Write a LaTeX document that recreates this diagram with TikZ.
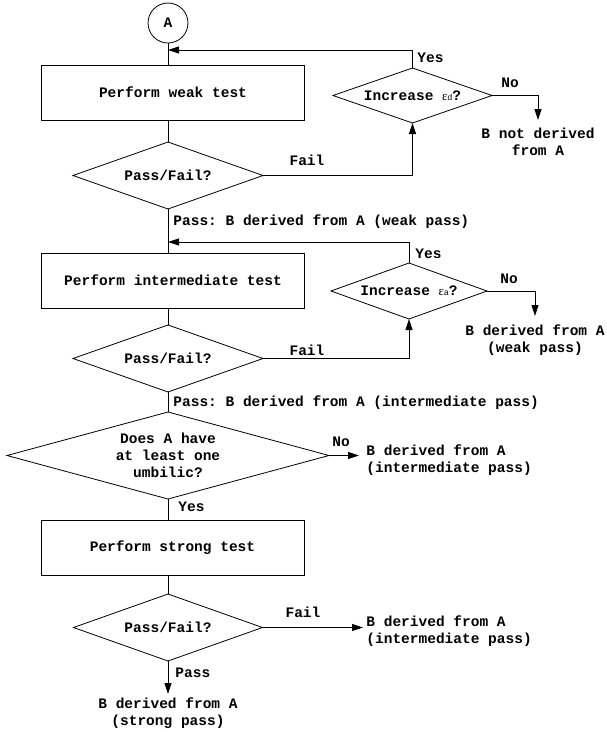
\documentclass[tikz,border=0pt]{standalone}
\usepackage{fontspec}
\setmonofont{Liberation Mono}
\newfontfamily\epsfont{Liberation Serif}
\usetikzlibrary{shapes.geometric,arrows.meta}
\newcommand\myeps[1]{{\epsfont\mdseries\fontsize{13}{13}\selectfont ε}\kern-0.3pt{\mdseries\fontsize{8.5}{8.5}\selectfont #1}}
\begin{document}
\begin{tikzpicture}[x=1pt,y=-1pt, line width=0.8pt,
  every node/.style={font={\ttfamily\bfseries\fontsize{14.5}{17}\selectfont}},
  box/.style={draw, rectangle, minimum width=263pt, minimum height=55pt, inner sep=0pt},
  dia/.style={draw, diamond, inner sep=0pt, outer sep=0pt},
  lbl/.style={inner sep=0pt},
  outtxt/.style={align=center, inner sep=0pt},
  arr/.style={-{Triangle[length=11pt,width=7pt]}}]
\useasboundingbox (0,0) rectangle (606,732);

% nodes
\node[circle, draw, minimum size=40pt, inner sep=0pt] (A) at (168,23) {A};
\coordinate (j1) at (168,50);
\node[box] (w1) at (173,92.5) {Perform weak test};
\node[dia, minimum width=190pt, minimum height=67pt, aspect=2.8] (d1) at (168,175.5) {Pass/Fail?};
\node[dia, minimum width=159pt, minimum height=55pt, aspect=2.9] (i1) at (412.5,95.5) {Increase \myeps{d}?};
\node[outtxt, anchor=north] (o1) at (538,128) {B not derived\\from A};

\coordinate (j2) at (168,242);
\node[box] (w2) at (173,280.5) {Perform intermediate test};
\node[dia, minimum width=156pt, minimum height=56pt, aspect=2.8] (i2) at (409,291) {Increase \myeps{a}?};
\node[outtxt, anchor=north] (o2) at (535,324) {B derived from A\\(weak pass)};
\node[dia, minimum width=190pt, minimum height=67pt, aspect=2.8] (d2) at (168,358.5) {Pass/Fail?};

\node[dia, minimum width=322pt, minimum height=87pt, aspect=3.7, align=center] (d3) at (168,455.5) {Does A have\\at least one\\umbilic?};
\node[outtxt, align=left, anchor=north west] (o3) at (366,444) {B derived from A\\(intermediate pass)};

\node[box] (w3) at (172.5,547.5) {Perform strong test};
\node[dia, minimum width=189pt, minimum height=67pt, aspect=2.8] (d4) at (168,627.5) {Pass/Fail?};
\node[outtxt, align=left, anchor=north west] (o4) at (366,615) {B derived from A\\(intermediate pass)};
\node[outtxt, anchor=north] (o5) at (168,697) {B derived from A\\(strong pass)};

% labels
\node[lbl, anchor=base west] (y1) at (417,62) {Yes};
\node[lbl, anchor=base] (n1) at (510,87) {No};
\node[lbl, anchor=base] (f1) at (307,165) {Fail};
\node[lbl, anchor=base west] (p1) at (173,225) {Pass: B derived from A (weak pass)};
\node[lbl, anchor=base west] (y2) at (415,258) {Yes};
\node[lbl, anchor=base] (n2) at (509,283) {No};
\node[lbl, anchor=base] (f2) at (307,355) {Fail};
\node[lbl, anchor=base west] (p2) at (173,406) {Pass: B derived from A (intermediate pass)};
\node[lbl, anchor=base] (n3) at (341,446) {No};
\node[lbl, anchor=base west] (y3) at (178,511) {Yes};
\node[lbl, anchor=base] (f4) at (303,617) {Fail};
\node[lbl, anchor=base west] (p4) at (175,677) {Pass};

% connectors
\draw (A.south) -- (A.south |- w1.north);
\draw[arr] (i1.north) |- (j1);
\draw (d1.north |- w1.south) -- (d1.north);
\draw[arr] (d1.east) -| (i1.south);
\draw[arr] (i1.east) -| ([yshift=8pt]o1.north);
\draw (d1.south) -- (d1.south |- w2.north);
\draw[arr] (i2.north) |- (j2);
\draw (d2.north |- w2.south) -- (d2.north);
\draw[arr] (d2.east) -| (i2.south);
\draw[arr] (i2.east) -| ([yshift=8pt]o2.north);
\draw (d2.south) -- (d3.north);
\draw[arr, shorten >=7pt] (d3.east) -- (d3.east -| o3.west);
\draw (d3.south) -- (d3.south |- w3.north);
\draw (d4.north |- w3.south) -- (d4.north);
\draw[arr, shorten >=3pt] (d4.east) -- (d4.east -| o4.west);
\draw[arr] (d4.south) -- ([yshift=3pt]o5.north);
\end{tikzpicture}
\end{document}
